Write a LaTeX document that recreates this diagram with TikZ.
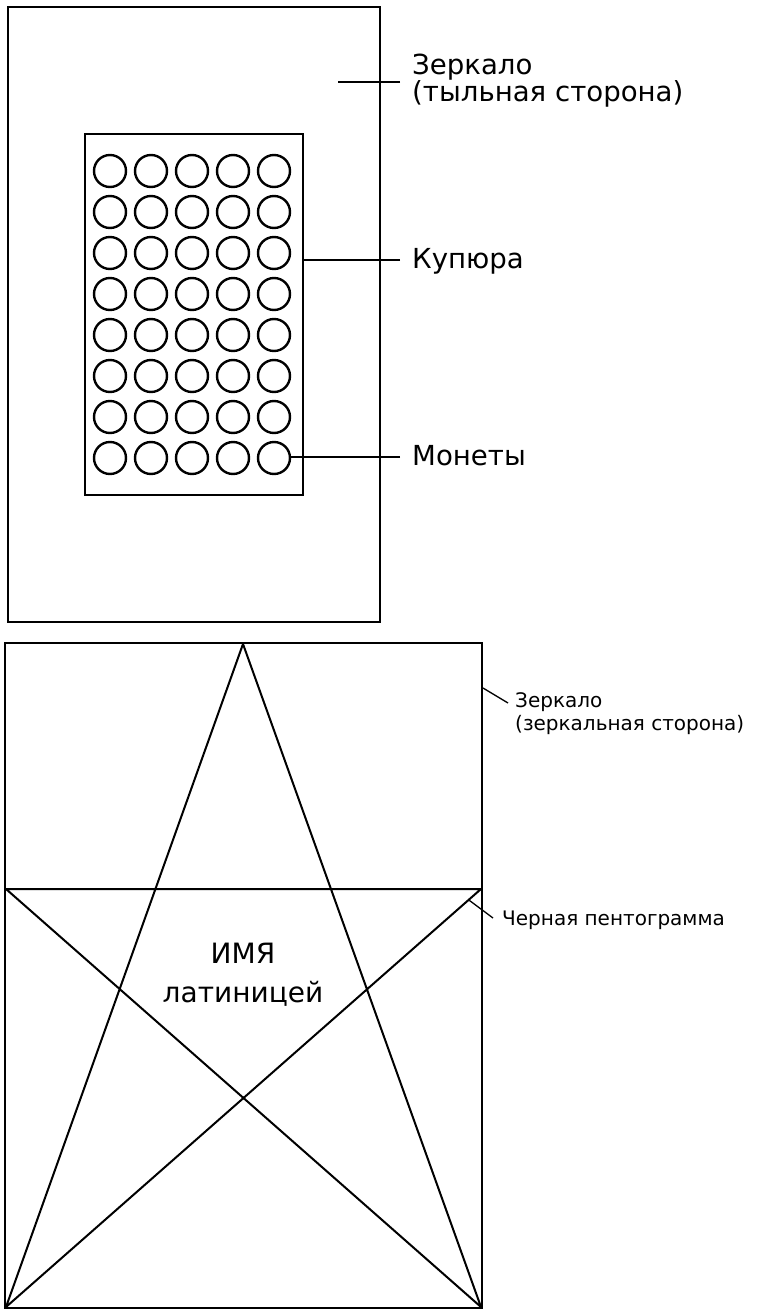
\documentclass[tikz,border=0pt]{standalone}
\usepackage{fontspec}
\setmainfont{DejaVu Sans}
\usepackage{tikz}
\usetikzlibrary{positioning}

\begin{document}
\begin{tikzpicture}[x=1pt,y=-1pt,
frame/.style={draw,line width=2.8pt,inner sep=0pt},
coin/.style={circle,draw,line width=2.4pt,minimum size=32pt,inner sep=0pt},
lead/.style={line width=1.3pt},
lbl/.style={anchor=base west,inner sep=0pt,font=\fontsize{27.6}{30}\selectfont},
small/.style={anchor=base west,inner sep=0pt,font=\fontsize{20}{22}\selectfont}]
\useasboundingbox (0,0) rectangle (757,1311);
\node[frame,minimum width=372pt,minimum height=615pt](back)at(194,314.5){};
\node[frame,minimum width=218pt,minimum height=361pt](note)at(194,314.5){};
\foreach \r in {0,...,7}
  \foreach \c in {0,...,4}
    \node[coin](c-\r-\c)at(110+41*\c,171+41*\r){};
\node[lbl](zt1)at(412,75){Зеркало};
\node[lbl](zt2)at(412,102){(тыльная сторона)};
\node[lbl](kup)at(412,268){Купюра};
\node[lbl](mon)at(412,465){Монеты};
\draw[lead]([xshift=-12pt,yshift=-7pt]zt1.base west)--++(-62,0);
\draw[lead]([xshift=-12pt,yshift=8pt]kup.base west)coordinate(k)--(k-|note.east);
\draw[lead]([xshift=-12pt,yshift=8pt]mon.base west)coordinate(m)--(m-|c-7-4.east);
\node[draw,line width=2pt,inner sep=0pt,minimum width=477pt,minimum height=665pt](front)at(243.5,975.5){};
\coordinate(top)at(243,644);
\coordinate(bl)at(6,1307);
\coordinate(br)at(481,1307);
\coordinate(ml)at(6,889);
\coordinate(mr)at(481,889);
\draw[line width=2pt,line join=round](bl)--(top)--(br)--(ml)--(mr)--coordinate[pos=0.026](pk)(bl);
\node[font=\fontsize{28}{30}\selectfont,anchor=base,inner sep=0pt](imya)at(243,963){ИМЯ};
\node[font=\fontsize{28}{30}\selectfont,anchor=base,inner sep=0pt](lat)at(243,1002){латиницей};
\node[small](zf1)at(515,707){Зеркало};
\node[small](zf2)at(515,730){(зеркальная сторона)};
\node[small](pent)at(502,925){Черная пентограмма};
\draw[lead]([yshift=-46pt]front.north east)--([xshift=-7pt,yshift=4pt]zf1.base west);
\draw[lead](pk)--([xshift=-9pt,yshift=7pt]pent.base west);
\end{tikzpicture}
\end{document}
